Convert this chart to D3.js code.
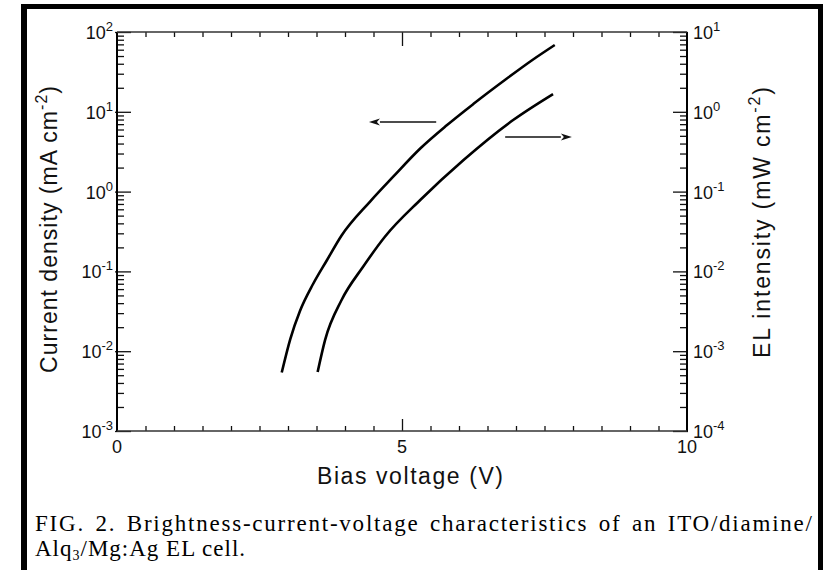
<!DOCTYPE html>
<html>
<head>
<meta charset="utf-8">
<script src="https://cdn.jsdelivr.net/npm/d3@7"></script>
<style>
  html, body { margin: 0; padding: 0; background: #fff; }
  svg { display: block; }
</style>
</head>
<body>
<svg id="chart" width="823" height="570"></svg>
<script>
// Current density (left axis, mA cm^-2) against bias voltage (V)
const jVoltage = [2.89, 3.04, 3.21, 3.44, 3.68, 3.94, 4.44, 4.85, 5.32, 5.78, 6.25, 6.84, 7.30, 7.68];
const jCurrent = [0.0054, 0.0142, 0.0319, 0.0695, 0.137, 0.282, 0.751, 1.55, 3.47, 6.73, 12.5, 26.1, 45.2, 68.7];

// EL intensity (right axis, mW cm^-2) against bias voltage (V)
const elVoltage = [3.52, 3.65, 3.94, 4.32, 4.70, 5.32, 6.08, 6.95, 7.65];
const elIntensity = [0.00055, 0.00138, 0.00438, 0.0115, 0.0272, 0.0785, 0.249, 0.789, 1.67];

// Axis tick labels
const jExponents = [-3, -2, -1, 0, 1, 2];
const elExponents = [-4, -3, -2, -1, 0, 1];
const voltLabels = [0, 5, 10];

// Arrows telling which axis each curve belongs to: [start V, end V] at a level
const jArrowVolts = [5.6, 4.42];
const jArrowLevel = 7.45;
const elArrowVolts = [6.81, 7.98];
const elArrowLevel = 0.483;

const svg = d3.select("#chart");
const sans = "'Liberation Sans', Arial, Helvetica, sans-serif";
const serif = "'Liberation Serif', 'Times New Roman', Times, serif";

const plotL = 117, plotR = 687, plotT = 32, plotB = 431;

const x = d3.scaleLinear().domain([0, 10]).range([plotL, plotR]);
const yJ = d3.scaleLog().domain([1e-3, 1e2]).range([plotB, plotT]);
const yL = d3.scaleLog().domain([1e-4, 1e1]).range([plotB, plotT]);

// page frame
const frame = svg.append("g").attr("stroke", "#000").attr("fill", "none");
frame.append("line").attr("x1", 24).attr("x2", 24).attr("y1", 4).attr("y2", 570).attr("stroke-width", 6);
frame.append("line").attr("x1", 21).attr("x2", 823).attr("y1", 6.5).attr("y2", 6.5).attr("stroke-width", 5);
frame.append("line").attr("x1", 820.5).attr("x2", 820.5).attr("y1", 4).attr("y2", 570).attr("stroke-width", 5);

// axis ticks
function styleAxis(g) {
  g.select(".domain").remove();
  g.selectAll(".tick line").attr("stroke", "#111").attr("stroke-width", 1.3);
  g.selectAll(".tick text").remove();
}
const isDecade = (v, exps) => exps.some(e => Math.abs(Math.log10(v) - e) < 1e-9);
const jMinor = yJ.ticks().filter(v => !isDecade(v, jExponents));
const lMinor = yL.ticks().filter(v => !isDecade(v, elExponents));
const jMajor = jExponents.map(e => Math.pow(10, e));
const lMajor = elExponents.map(e => Math.pow(10, e));

svg.append("g").attr("transform", `translate(${plotL},0)`)
  .call(d3.axisRight(yJ).tickValues(jMinor).tickSize(7)).call(styleAxis);
svg.append("g").attr("transform", `translate(${plotL - 2},0)`)
  .call(d3.axisRight(yJ).tickValues(jMajor).tickSize(16)).call(styleAxis);
svg.append("g").attr("transform", `translate(${plotR},0)`)
  .call(d3.axisLeft(yL).tickValues(lMinor).tickSize(7)).call(styleAxis);
svg.append("g").attr("transform", `translate(${plotR + 1},0)`)
  .call(d3.axisLeft(yL).tickValues(lMajor).tickSize(15)).call(styleAxis);

const halfVolts = d3.range(0.5, 10, 0.5).filter(v => v !== 5);
svg.append("g").attr("transform", `translate(0,${plotB})`)
  .call(d3.axisTop(x).tickValues(halfVolts).tickSize(5)).call(styleAxis);
svg.append("g").attr("transform", `translate(0,${plotB})`)
  .call(d3.axisTop(x).tickValues([5]).tickSize(12)).call(styleAxis);
svg.append("g").attr("transform", `translate(0,${plotT})`)
  .call(d3.axisBottom(x).tickValues(halfVolts).tickSize(5)).call(styleAxis);
svg.append("g").attr("transform", `translate(0,${plotT})`)
  .call(d3.axisBottom(x).tickValues([5]).tickSize(14)).call(styleAxis);

// plot box
const box = svg.append("g").attr("fill", "none");
box.append("line").attr("x1", plotL).attr("x2", plotL).attr("y1", plotT).attr("y2", plotB).attr("stroke", "#000").attr("stroke-width", 2);
box.append("line").attr("x1", plotR).attr("x2", plotR).attr("y1", plotT).attr("y2", plotB).attr("stroke", "#000").attr("stroke-width", 2);
box.append("line").attr("x1", plotL).attr("x2", plotR).attr("y1", plotT).attr("y2", plotT).attr("stroke", "#333").attr("stroke-width", 1.6);
box.append("line").attr("x1", plotL).attr("x2", plotR).attr("y1", plotB).attr("y2", plotB).attr("stroke", "#333").attr("stroke-width", 1.6);

// tick labels with superscript exponents
function powerLabel(sel, exps, scale, xPos, anchor) {
  sel.selectAll(null).data(exps).join("text")
    .attr("x", xPos)
    .attr("y", e => scale(Math.pow(10, e)) + 7)
    .attr("text-anchor", anchor)
    .attr("font-family", sans)
    .attr("font-size", 18)
    .attr("fill", "#111")
    .each(function (e) {
      const t = d3.select(this);
      t.append("tspan").text("10");
      t.append("tspan").attr("dy", -8).attr("font-size", 13).text(e < 0 ? "-" + Math.abs(e) : String(e));
    });
}
powerLabel(svg.append("g"), jExponents, yJ, plotL - 4, "end");
powerLabel(svg.append("g"), elExponents, yL, plotR + 6, "start");

svg.append("g").selectAll("text").data(voltLabels).join("text")
  .attr("x", d => x(d))
  .attr("y", plotB + 22)
  .attr("text-anchor", "middle")
  .attr("font-family", sans)
  .attr("font-size", 18)
  .attr("fill", "#111")
  .text(d => d);

// axis titles
svg.append("text")
  .attr("x", 410).attr("y", 484)
  .attr("text-anchor", "middle")
  .attr("font-family", sans).attr("font-size", 23).attr("fill", "#111")
  .attr("textLength", 186).attr("lengthAdjust", "spacing")
  .text("Bias voltage (V)");

function unitTitle(cx, cy, label, unit, len) {
  const t = svg.append("text")
    .attr("transform", `translate(${cx},${cy}) rotate(-90)`)
    .attr("text-anchor", "middle")
    .attr("font-family", sans).attr("font-size", 23).attr("fill", "#111")
    .attr("textLength", len).attr("lengthAdjust", "spacing");
  t.append("tspan").text(label + "  (" + unit + " cm");
  t.append("tspan").attr("dy", -10).attr("font-size", 16).text("-2");
  t.append("tspan").attr("dy", 10).text(")");
}
unitTitle(57, 229.5, "Current density", "mA", 287);
unitTitle(770, 222.5, "EL intensity", "mW", 271);

// curves
const line = d3.line().curve(d3.curveMonotoneX);
svg.append("path")
  .attr("d", line(jVoltage.map((v, i) => [x(v), yJ(jCurrent[i])])))
  .attr("fill", "none").attr("stroke", "#000").attr("stroke-width", 2.6);
svg.append("path")
  .attr("d", line(elVoltage.map((v, i) => [x(v), yL(elIntensity[i])])))
  .attr("fill", "none").attr("stroke", "#000").attr("stroke-width", 2.6);

// arrows
function arrow(volts, y) {
  const x0 = x(volts[0]), x1 = x(volts[1]);
  const dir = Math.sign(x1 - x0);
  const head = 11;
  svg.append("line").attr("x1", x0).attr("x2", x1 - dir * head).attr("y1", y).attr("y2", y)
    .attr("stroke", "#111").attr("stroke-width", 1.4);
  svg.append("path")
    .attr("d", `M${x1},${y} L${x1 - dir * head},${y - 3.6} L${x1 - dir * (head - 3)},${y} L${x1 - dir * head},${y + 3.6} Z`)
    .attr("fill", "#111");
}
arrow(jArrowVolts, yJ(jArrowLevel));
arrow(elArrowVolts, yL(elArrowLevel));

// caption: first line set to the full column width, last line natural
const cap = svg.append("g").attr("font-family", serif).attr("font-size", 23).attr("fill", "#000");
const cap1 = cap.append("text").attr("x", 35).attr("y", 531).attr("word-spacing", 3)
  .text("FIG. 2. Brightness-current-voltage characteristics of an ITO/diamine/");
const natural = cap1.node().getComputedTextLength();
const nChars = cap1.text().length;
cap1.attr("letter-spacing", Math.max(0, (777 - natural) / (nChars - 1)));
const cap2 = cap.append("text").attr("x", 35).attr("y", 556).attr("letter-spacing", 1);
cap2.append("tspan").text("Alq");
cap2.append("tspan").attr("dy", 4).attr("font-size", 14).text("3");
cap2.append("tspan").attr("dy", -4).text("/Mg:Ag EL cell.");
</script>
</body>
</html>
